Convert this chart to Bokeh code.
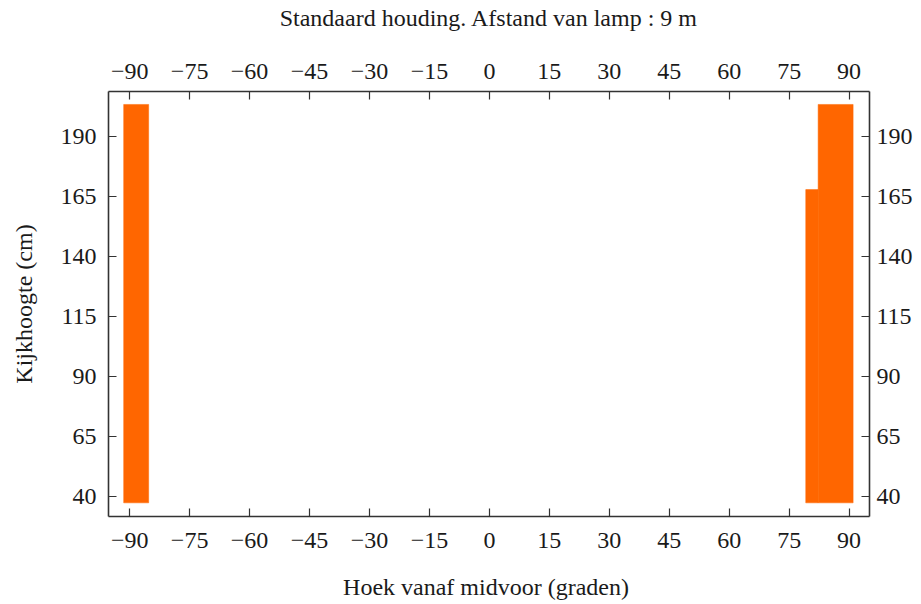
from bokeh.plotting import figure
from bokeh.models import LinearAxis, FixedTicker, ColumnDataSource
from bokeh.embed import file_html
from bokeh.resources import INLINE

# Data (cells of the density plot)
bar_left = [-91.5, 82.25, 79.15]
bar_right = [-85.25, 91.0, 82.25]
bar_bottom = [37.4, 37.4, 37.4]
bar_top = [203.5, 203.5, 168.0]

x_ticks = [-90, -75, -60, -45, -30, -15, 0, 15, 30, 45, 60, 75, 90]
x_tick_labels = ["\u221290", "\u221275", "\u221260", "\u221245", "\u221230", "\u221215",
                 "0", "15", "30", "45", "60", "75", "90"]
y_ticks = [40, 65, 90, 115, 140, 165, 190]
y_tick_labels = ["40", "65", "90", "115", "140", "165", "190"]

title_text = "Standaard houding. Afstand van lamp : 9 m"
x_label = "Hoek vanaf midvoor  (graden)"
y_label = "Kijkhoogte (cm)"

FONT = "Liberation Serif"
AXC = "#333333"
TXC = "#1a1a1a"

p = figure(width=921, height=604, x_range=(-95.3, 95.1), y_range=(31.7, 208.9),
           output_backend="svg", toolbar_location=None,
           min_border_left=108, min_border_right=52, min_border_top=91, min_border_bottom=88)
p.grid.visible = False
p.outline_line_color = None
p.background_fill_color = "white"
p.border_fill_color = "white"

src = ColumnDataSource(dict(left=bar_left, right=bar_right, bottom=bar_bottom, top=bar_top))
p.quad(left="left", right="right", bottom="bottom", top="top", source=src,
       fill_color="#ff6600", line_color="#ff6600", line_width=0.5)

p.add_layout(LinearAxis(), "above")
p.add_layout(LinearAxis(), "right")

xlab = dict(zip([float(t) for t in x_ticks], x_tick_labels))
ylab = dict(zip([float(t) for t in y_ticks], y_tick_labels))

for ax in p.xaxis:
    ax.ticker = FixedTicker(ticks=x_ticks)
    ax.major_label_overrides = xlab
for ax in p.yaxis:
    ax.ticker = FixedTicker(ticks=y_ticks)
    ax.major_label_overrides = ylab

for ax in p.axis:
    ax.axis_line_color = AXC
    ax.axis_line_width = 1.6
    ax.major_tick_line_color = AXC
    ax.major_tick_line_width = 1.2
    ax.major_tick_in = 8
    ax.major_tick_out = 0
    ax.minor_tick_line_color = None
    ax.major_label_text_font = FONT
    ax.major_label_text_font_size = "24px"
    ax.major_label_text_color = TXC
    ax.axis_label_text_font = FONT
    ax.axis_label_text_font_size = "24px"
    ax.axis_label_text_font_style = "normal"
    ax.axis_label_text_color = TXC

bottom_ax = p.below[0]
top_ax = p.above[0]
left_ax = p.left[0]
right_ax = p.right[0]

bottom_ax.major_label_standoff = 16
bottom_ax.axis_label = x_label
bottom_ax.axis_label_standoff = 23

top_ax.major_label_standoff = 13
top_ax.axis_label = title_text
top_ax.axis_label_standoff = 30

left_ax.major_label_standoff = 12
left_ax.axis_label = y_label
left_ax.axis_label_standoff = 21

right_ax.major_label_standoff = 7

open("out.html", "w").write(file_html(p, INLINE))
